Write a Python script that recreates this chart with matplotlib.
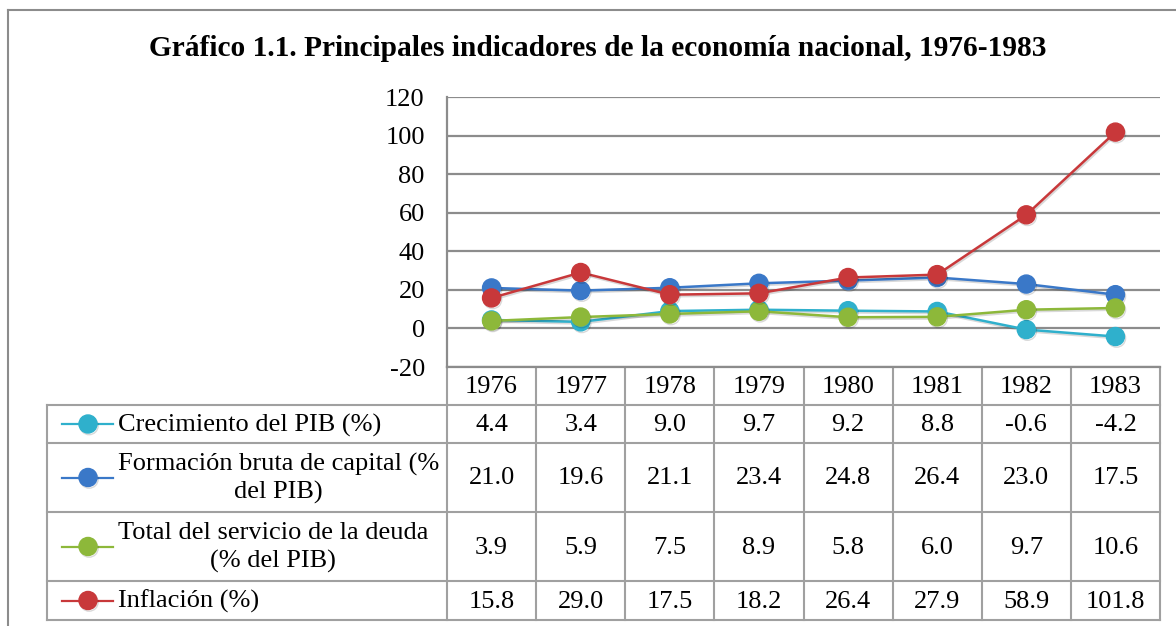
import numpy as np
import matplotlib
matplotlib.use("Agg")
from matplotlib import pyplot as plt
from matplotlib import transforms as mtrans
import matplotlib.patheffects as pe

plt.rcParams['font.family'] = ['Liberation Serif', 'DejaVu Serif']
plt.rcParams['axes.unicode_minus'] = False

years = ['1976', '1977', '1978', '1979', '1980', '1981', '1982', '1983']
pib = [4.4, 3.4, 9.0, 9.7, 9.2, 8.8, -0.6, -4.2]
fbk = [21.0, 19.6, 21.1, 23.4, 24.8, 26.4, 23.0, 17.5]
deuda = [3.9, 5.9, 7.5, 8.9, 5.8, 6.0, 9.7, 10.6]
infl = [15.8, 29.0, 17.5, 18.2, 26.4, 27.9, 58.9, 101.8]

names = ['Crecimiento del PIB (%)',
         'Formación bruta de capital (%\ndel PIB)',
         'Total del servicio de la deuda\n(% del PIB)',
         'Inflación (%)']
colors = ['#2fb0cc', '#3a78c8', '#8db83a', '#c8383a']
series = [pib, fbk, deuda, infl]

W, H = 1176, 626
fig = plt.figure(figsize=(W / 100, H / 100), dpi=100)
fs = 19

# background axes in pixel units for frame + data table
bg = fig.add_axes([0, 0, 1, 1])
bg.set_xlim(0, W)
bg.set_ylim(H, 0)
bg.axis('off')

x0, x1, y0, y1 = 447, 1160, 97, 367
ax = fig.add_axes([x0 / W, (H - y1) / H, (x1 - x0) / W, (y1 - y0) / H])
x = np.arange(len(years))
ax.set_xlim(-0.5, len(years) - 0.5)
ax.set_ylim(-20, 120)
ax.set_yticks(np.arange(-20, 121, 20))
ax.yaxis.grid(True, color='#8c8c8c', lw=1.6)
ax.set_axisbelow(True)
ax.set_xticks([])
for s in ['top', 'right']:
    ax.spines[s].set_visible(False)
for s in ['left', 'bottom']:
    ax.spines[s].set_color('#8c8c8c')
    ax.spines[s].set_linewidth(1.6)
ax.tick_params(axis='y', length=0, labelsize=fs, pad=16)

shadow = [pe.SimpleLineShadow(offset=(0.8, -1.2), alpha=0.15), pe.Normal()]
for vals, c in zip(series, colors):
    ax.plot(x, vals, color=c, lw=1.8, marker='o', ms=13, mec=c, mfc=c,
            path_effects=shadow, zorder=3)

# frame
grey = '#8c8c8c'
bg.plot([8, 8], [10, H], color=grey, lw=1.5)
bg.plot([8, W], [10, 10], color=grey, lw=1.5)

fig.text(598 / W, 1 - 48 / H,
         'Gráfico 1.1. Principales indicadores de la economía nacional, 1976-1983',
         ha='center', va='center', fontsize=21.2, fontweight='bold')

# data table
tgrey = '#a0a0a0'
rows = [367, 405, 443, 512, 581, 620]
tr = mtrans.blended_transform_factory(ax.transData, bg.transData)
edges = np.arange(len(years) + 1) - 0.5
for e in edges:
    bg.plot([e, e], [rows[0], rows[-1]], color=tgrey, lw=1.5, transform=tr)
bg.plot([47, 47], [rows[1], rows[-1]], color=tgrey, lw=1.5)
for r in rows[1:]:
    bg.plot([47, x1], [r, r], color=tgrey, lw=1.5)

for i, yr in enumerate(years):
    bg.text(i, (rows[0] + rows[1]) / 2 + 1, yr, ha='center', va='center',
            fontsize=fs, transform=tr)
for k, (vals, c, nm) in enumerate(zip(series, colors, names)):
    yc = (rows[k + 1] + rows[k + 2]) / 2 + 1
    for i, v in enumerate(vals):
        bg.text(i, yc, f'{v:.1f}', ha='center', va='center', fontsize=fs,
                transform=tr)
    bg.plot([62, 113], [yc - 1, yc - 1], color=c, lw=1.6)
    bg.plot([88], [yc - 1], marker='o', ms=13, color=c, path_effects=shadow)
    bg.text(118, yc, nm, ha='left', va='center', fontsize=fs,
            multialignment='center', linespacing=1.32)

fig.savefig('out.png', dpi=100)
